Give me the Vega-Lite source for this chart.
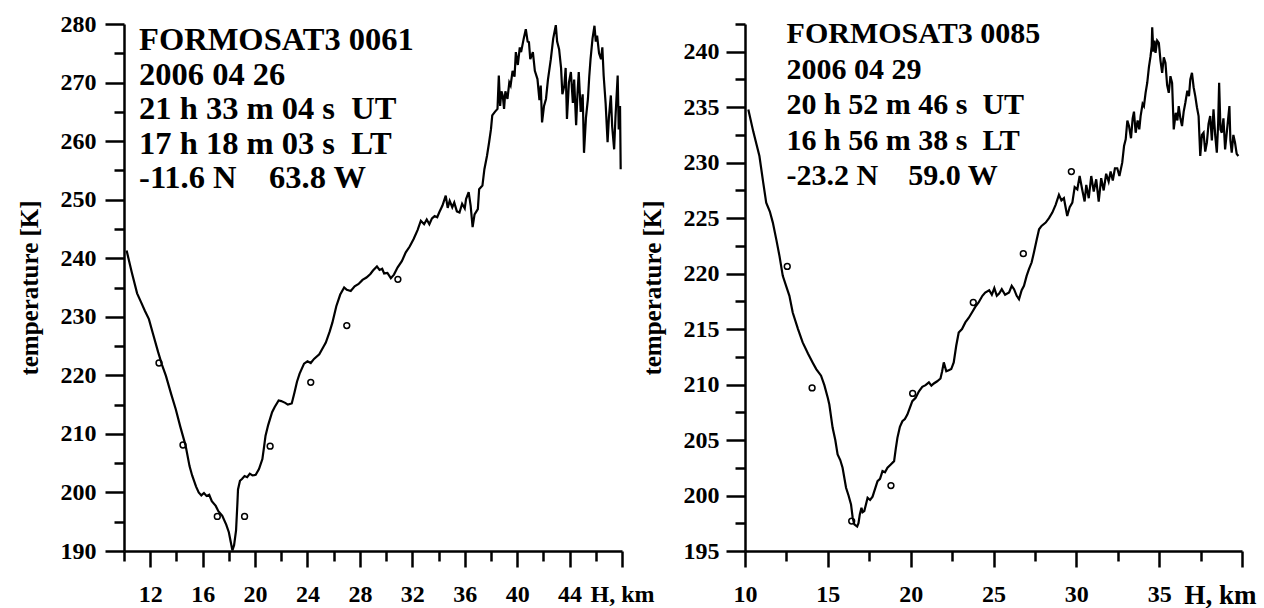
{
  "$schema": "https://vega.github.io/schema/vega-lite/v6.json",
  "background": "white",
  "padding": {"left": 17, "top": 12, "right": 0, "bottom": 0},
  "config": {"view": {"stroke": null}, "axis": {"grid": false, "labelFont": "Liberation Serif", "labelFontWeight": "bold", "labelFontSize": 24, "labelColor": "black", "labelOverlap": false, "labelFlush": false, "labelBound": false, "domainColor": "black", "domainWidth": 2.5, "tickColor": "black", "tickWidth": 2.5, "titleFont": "Liberation Serif", "titleFontWeight": "bold", "titleFontSize": 25, "titleColor": "black"}},
  "datasets": {
    "leftLine": [
      {"h":10.2,"t":241.3},{"h":10.6,"t":237.5},{"h":11.0,"t":234.0},{"h":11.3,"t":232.5},{"h":11.6,"t":231.0},{"h":11.9,"t":229.6},{"h":12.2,"t":227.2},{"h":12.6,"t":224.0},{"h":12.9,"t":221.8},{"h":13.2,"t":219.9},{"h":13.6,"t":216.8},{"h":13.95,"t":214.2},{"h":14.3,"t":211.2},{"h":14.7,"t":208.0},{"h":15.0,"t":204.5},{"h":15.2,"t":202.9},{"h":15.5,"t":201.0},{"h":15.7,"t":200.0},{"h":15.9,"t":199.5},{"h":16.1,"t":199.9},{"h":16.3,"t":199.4},{"h":16.5,"t":199.6},{"h":16.7,"t":198.5},{"h":17.0,"t":197.7},{"h":17.2,"t":196.8},{"h":17.5,"t":196.0},{"h":17.8,"t":194.5},{"h":18.0,"t":193.2},{"h":18.15,"t":191.5},{"h":18.27,"t":190.1},{"h":18.4,"t":191.0},{"h":18.55,"t":193.5},{"h":18.65,"t":198.0},{"h":18.7,"t":200.5},{"h":18.85,"t":202.0},{"h":19.0,"t":202.3},{"h":19.2,"t":202.8},{"h":19.4,"t":202.6},{"h":19.6,"t":203.2},{"h":19.8,"t":202.9},{"h":20.05,"t":203.0},{"h":20.3,"t":204.0},{"h":20.56,"t":205.7},{"h":20.7,"t":208.0},{"h":20.8,"t":209.7},{"h":21.0,"t":211.5},{"h":21.3,"t":213.7},{"h":21.5,"t":214.6},{"h":21.8,"t":215.7},{"h":22.0,"t":215.6},{"h":22.3,"t":215.3},{"h":22.5,"t":215.0},{"h":22.8,"t":215.2},{"h":23.0,"t":217.0},{"h":23.2,"t":218.9},{"h":23.4,"t":220.3},{"h":23.74,"t":222.0},{"h":24.0,"t":222.4},{"h":24.25,"t":222.1},{"h":24.5,"t":222.8},{"h":24.9,"t":223.6},{"h":25.2,"t":224.8},{"h":25.4,"t":225.6},{"h":25.7,"t":227.5},{"h":25.9,"t":229.0},{"h":26.2,"t":231.8},{"h":26.5,"t":233.8},{"h":26.8,"t":235.0},{"h":27.0,"t":234.6},{"h":27.3,"t":234.4},{"h":27.6,"t":235.2},{"h":27.9,"t":235.6},{"h":28.2,"t":236.3},{"h":28.5,"t":236.7},{"h":28.8,"t":237.3},{"h":29.0,"t":237.9},{"h":29.3,"t":238.6},{"h":29.5,"t":238.0},{"h":29.7,"t":238.2},{"h":29.85,"t":237.4},{"h":30.1,"t":237.5},{"h":30.36,"t":236.6},{"h":30.6,"t":237.2},{"h":30.87,"t":238.4},{"h":31.2,"t":239.5},{"h":31.5,"t":241.0},{"h":31.8,"t":242.0},{"h":32.1,"t":243.3},{"h":32.4,"t":244.8},{"h":32.65,"t":246.4},{"h":32.9,"t":245.8},{"h":33.1,"t":246.6},{"h":33.3,"t":245.8},{"h":33.5,"t":246.8},{"h":33.7,"t":247.2},{"h":33.9,"t":247.0},{"h":34.05,"t":247.8},{"h":34.3,"t":249.0},{"h":34.55,"t":250.7},{"h":34.7,"t":248.6},{"h":34.85,"t":249.8},{"h":35.05,"t":248.7},{"h":35.2,"t":249.5},{"h":35.4,"t":248.0},{"h":35.6,"t":247.8},{"h":35.8,"t":249.3},{"h":36.0,"t":248.5},{"h":36.1,"t":250.1},{"h":36.3,"t":251.3},{"h":36.45,"t":249.0},{"h":36.6,"t":245.3},{"h":36.75,"t":247.5},{"h":37.0,"t":248.4},{"h":37.1,"t":251.8},{"h":37.35,"t":252.4},{"h":37.5,"t":255.2},{"h":37.7,"t":257.5},{"h":37.86,"t":259.8},{"h":38.0,"t":262.0},{"h":38.1,"t":264.4},{"h":38.3,"t":265.0},{"h":38.5,"t":265.5},{"h":38.6,"t":271.2},{"h":38.7,"t":266.0},{"h":38.8,"t":268.5},{"h":38.9,"t":267.8},{"h":39.0,"t":265.5},{"h":39.1,"t":268.5},{"h":39.26,"t":267.2},{"h":39.4,"t":270.0},{"h":39.5,"t":269.5},{"h":39.65,"t":272.0},{"h":39.8,"t":271.0},{"h":39.9,"t":275.2},{"h":40.05,"t":273.0},{"h":40.2,"t":276.0},{"h":40.3,"t":275.2},{"h":40.5,"t":277.5},{"h":40.66,"t":279.1},{"h":40.8,"t":277.0},{"h":40.9,"t":276.9},{"h":41.0,"t":274.0},{"h":41.2,"t":275.2},{"h":41.35,"t":272.0},{"h":41.55,"t":270.6},{"h":41.7,"t":267.0},{"h":41.8,"t":269.5},{"h":41.9,"t":263.2},{"h":42.05,"t":266.0},{"h":42.2,"t":267.2},{"h":42.35,"t":270.5},{"h":42.57,"t":274.0},{"h":42.75,"t":277.5},{"h":42.95,"t":279.8},{"h":43.05,"t":277.0},{"h":43.2,"t":275.7},{"h":43.35,"t":272.5},{"h":43.45,"t":268.0},{"h":43.6,"t":269.5},{"h":43.7,"t":272.5},{"h":43.8,"t":263.8},{"h":43.95,"t":270.0},{"h":44.1,"t":271.8},{"h":44.25,"t":266.5},{"h":44.35,"t":270.5},{"h":44.5,"t":262.7},{"h":44.6,"t":268.0},{"h":44.7,"t":271.8},{"h":44.85,"t":265.0},{"h":45.0,"t":268.0},{"h":45.1,"t":258.0},{"h":45.25,"t":264.0},{"h":45.4,"t":267.2},{"h":45.5,"t":271.0},{"h":45.6,"t":274.0},{"h":45.75,"t":277.5},{"h":45.9,"t":279.7},{"h":46.0,"t":277.0},{"h":46.1,"t":278.0},{"h":46.25,"t":275.0},{"h":46.4,"t":274.0},{"h":46.5,"t":276.0},{"h":46.6,"t":271.2},{"h":46.75,"t":266.5},{"h":46.9,"t":259.8},{"h":47.0,"t":264.0},{"h":47.15,"t":267.8},{"h":47.25,"t":262.5},{"h":47.4,"t":258.6},{"h":47.5,"t":264.0},{"h":47.67,"t":271.2},{"h":47.75,"t":262.0},{"h":47.85,"t":266.0},{"h":47.9,"t":255.2}
    ],
    "leftPts": [
      {"h":12.67,"t":222.1},{"h":14.5,"t":208.1},{"h":17.12,"t":195.9},{"h":19.2,"t":195.9},{"h":21.15,"t":207.9},{"h":24.25,"t":218.8},{"h":27.0,"t":228.5},{"h":30.9,"t":236.4}
    ],
    "rightLine": [
      {"h":10.2,"t":234.8},{"h":10.5,"t":232.8},{"h":10.87,"t":230.6},{"h":11.1,"t":228.2},{"h":11.28,"t":226.4},{"h":11.5,"t":225.6},{"h":11.68,"t":224.6},{"h":11.9,"t":223.0},{"h":12.08,"t":221.6},{"h":12.28,"t":219.8},{"h":12.5,"t":218.8},{"h":12.68,"t":218.0},{"h":12.88,"t":216.5},{"h":13.2,"t":215.0},{"h":13.48,"t":213.8},{"h":13.8,"t":212.8},{"h":14.08,"t":212.0},{"h":14.3,"t":211.4},{"h":14.59,"t":210.8},{"h":14.79,"t":209.95},{"h":15.0,"t":208.8},{"h":15.09,"t":208.2},{"h":15.29,"t":206.1},{"h":15.45,"t":205.0},{"h":15.59,"t":203.7},{"h":15.75,"t":203.2},{"h":15.89,"t":202.5},{"h":16.1,"t":200.7},{"h":16.25,"t":200.0},{"h":16.4,"t":199.2},{"h":16.5,"t":198.0},{"h":16.6,"t":197.4},{"h":16.77,"t":197.2},{"h":16.85,"t":197.5},{"h":16.93,"t":198.3},{"h":17.03,"t":198.9},{"h":17.1,"t":198.5},{"h":17.2,"t":198.6},{"h":17.3,"t":199.2},{"h":17.4,"t":199.8},{"h":17.55,"t":199.6},{"h":17.7,"t":199.9},{"h":17.85,"t":200.6},{"h":18.0,"t":201.3},{"h":18.15,"t":201.5},{"h":18.3,"t":202.2},{"h":18.45,"t":202.1},{"h":18.6,"t":202.5},{"h":18.8,"t":202.8},{"h":19.0,"t":203.1},{"h":19.1,"t":204.2},{"h":19.2,"t":205.2},{"h":19.35,"t":206.2},{"h":19.5,"t":206.7},{"h":19.65,"t":206.9},{"h":19.8,"t":207.3},{"h":19.95,"t":207.9},{"h":20.1,"t":208.5},{"h":20.3,"t":208.8},{"h":20.5,"t":209.4},{"h":20.7,"t":209.8},{"h":20.9,"t":209.95},{"h":21.1,"t":210.2},{"h":21.25,"t":209.9},{"h":21.4,"t":210.1},{"h":21.6,"t":210.3},{"h":21.8,"t":210.55},{"h":21.9,"t":211.2},{"h":22.0,"t":212.0},{"h":22.15,"t":211.2},{"h":22.3,"t":211.3},{"h":22.45,"t":211.4},{"h":22.6,"t":212.0},{"h":22.75,"t":213.5},{"h":22.9,"t":214.7},{"h":23.1,"t":215.0},{"h":23.3,"t":215.6},{"h":23.5,"t":216.0},{"h":23.7,"t":216.5},{"h":23.9,"t":217.0},{"h":24.1,"t":217.4},{"h":24.33,"t":218.0},{"h":24.5,"t":218.3},{"h":24.74,"t":218.5},{"h":24.9,"t":218.1},{"h":25.05,"t":218.7},{"h":25.2,"t":218.0},{"h":25.34,"t":218.2},{"h":25.5,"t":218.6},{"h":25.7,"t":218.1},{"h":25.94,"t":218.3},{"h":26.1,"t":218.9},{"h":26.24,"t":218.6},{"h":26.4,"t":218.0},{"h":26.54,"t":217.7},{"h":26.7,"t":218.5},{"h":26.84,"t":218.9},{"h":27.0,"t":219.8},{"h":27.14,"t":220.4},{"h":27.3,"t":221.0},{"h":27.44,"t":221.9},{"h":27.6,"t":223.0},{"h":27.75,"t":224.0},{"h":27.9,"t":224.3},{"h":28.15,"t":224.6},{"h":28.35,"t":225.0},{"h":28.55,"t":225.5},{"h":28.75,"t":226.2},{"h":28.95,"t":227.1},{"h":29.1,"t":226.6},{"h":29.25,"t":226.8},{"h":29.45,"t":225.2},{"h":29.6,"t":226.0},{"h":29.76,"t":226.4},{"h":29.9,"t":227.8},{"h":30.06,"t":227.6},{"h":30.2,"t":228.8},{"h":30.35,"t":227.6},{"h":30.5,"t":226.5},{"h":30.6,"t":228.0},{"h":30.75,"t":226.8},{"h":30.9,"t":228.8},{"h":31.05,"t":227.4},{"h":31.2,"t":228.5},{"h":31.35,"t":226.5},{"h":31.5,"t":228.6},{"h":31.65,"t":227.5},{"h":31.8,"t":229.0},{"h":31.95,"t":228.3},{"h":32.07,"t":229.2},{"h":32.2,"t":228.4},{"h":32.33,"t":229.5},{"h":32.47,"t":229.5},{"h":32.6,"t":228.8},{"h":32.77,"t":230.0},{"h":32.88,"t":231.5},{"h":32.98,"t":232.1},{"h":33.08,"t":233.8},{"h":33.18,"t":233.3},{"h":33.3,"t":232.2},{"h":33.4,"t":234.0},{"h":33.48,"t":234.6},{"h":33.58,"t":232.7},{"h":33.7,"t":233.8},{"h":33.8,"t":233.0},{"h":33.88,"t":234.2},{"h":34.0,"t":235.3},{"h":34.08,"t":235.1},{"h":34.18,"t":236.3},{"h":34.28,"t":237.2},{"h":34.38,"t":238.6},{"h":34.48,"t":239.6},{"h":34.55,"t":240.5},{"h":34.58,"t":242.2},{"h":34.65,"t":240.0},{"h":34.72,"t":241.0},{"h":34.78,"t":239.9},{"h":34.88,"t":241.0},{"h":34.98,"t":240.8},{"h":35.08,"t":239.2},{"h":35.18,"t":238.1},{"h":35.28,"t":239.5},{"h":35.38,"t":239.0},{"h":35.48,"t":237.0},{"h":35.58,"t":236.3},{"h":35.68,"t":237.8},{"h":35.78,"t":237.2},{"h":35.88,"t":233.0},{"h":36.0,"t":234.5},{"h":36.1,"t":233.8},{"h":36.18,"t":235.1},{"h":36.28,"t":234.0},{"h":36.38,"t":233.3},{"h":36.48,"t":234.6},{"h":36.58,"t":235.4},{"h":36.7,"t":236.5},{"h":36.8,"t":236.0},{"h":36.88,"t":237.5},{"h":36.98,"t":238.1},{"h":37.08,"t":236.8},{"h":37.18,"t":236.0},{"h":37.28,"t":235.0},{"h":37.38,"t":234.2},{"h":37.48,"t":230.6},{"h":37.58,"t":232.5},{"h":37.68,"t":232.7},{"h":37.78,"t":231.0},{"h":37.88,"t":231.8},{"h":37.98,"t":233.5},{"h":38.08,"t":234.2},{"h":38.18,"t":232.0},{"h":38.28,"t":234.8},{"h":38.38,"t":232.5},{"h":38.48,"t":230.9},{"h":38.56,"t":233.5},{"h":38.62,"t":237.2},{"h":38.7,"t":233.0},{"h":38.78,"t":232.7},{"h":38.88,"t":234.0},{"h":38.98,"t":231.2},{"h":39.1,"t":233.0},{"h":39.24,"t":235.1},{"h":39.3,"t":232.0},{"h":39.38,"t":230.9},{"h":39.48,"t":232.5},{"h":39.58,"t":231.8},{"h":39.68,"t":230.8},{"h":39.78,"t":230.6}
    ],
    "rightPts": [
      {"h":12.55,"t":220.65},{"h":14.05,"t":209.7},{"h":16.44,"t":197.7},{"h":18.81,"t":200.9},{"h":20.12,"t":209.2},{"h":23.78,"t":217.4},{"h":26.8,"t":221.8},{"h":29.7,"t":229.2}
    ],
    "anchor": [{}]
  },
  "hconcat": [
    {
      "width": 498,
      "height": 527,
      "resolve": {"axis": {"x": "independent", "y": "independent"}},
      "layer": [
        {
          "data": {"name": "leftLine"},
          "mark": {"type": "line", "color": "black", "strokeWidth": 2.2},
          "encoding": {
            "x": {"field": "h", "type": "quantitative",
              "scale": {"domain": [10, 48], "nice": false, "zero": false},
              "axis": {"orient": "bottom", "offset": 0, "title": null, "values": [10,14,18,22,26,30,34,38,42,46], "labels": false, "tickSize": 10, "domain": true}},
            "y": {"field": "t", "type": "quantitative",
              "scale": {"domain": [190, 280], "nice": false, "zero": false},
              "axis": {"orient": "left", "offset": 0, "title": null, "values": [195,205,215,225,235,245,255,265,275], "labels": false, "tickSize": 10, "domain": true}}
          }
        },
        {
          "data": {"name": "leftPts"},
          "mark": {"type": "point", "shape": "circle", "filled": false, "color": "black", "size": 34, "strokeWidth": 1.5, "opacity": 1},
          "encoding": {
            "x": {"field": "h", "type": "quantitative",
              "axis": {"orient": "bottom", "offset": 0, "title": null, "values": [12,16,20,24,28,32,36,40,44,48], "domain": false, "tickSize": 16, "labelPadding": 15,
                "labelExpr": "datum.value == 48 ? 'H, km' : datum.label"}},
            "y": {"field": "t", "type": "quantitative",
              "axis": {"orient": "left", "offset": 0, "title": "temperature [K]", "values": [190,200,210,220,230,240,250,260,270,280], "domain": false, "tickSize": 19, "labelPadding": 9, "titlePadding": 18}}
          }
        },
        {
          "data": {"name": "anchor"},
          "mark": {"type": "text", "text": ["FORMOSAT3 0061", "2006 04 26", "21 h 33 m 04 s \u00a0UT", "17 h 18 m 03 s \u00a0LT", "-11.6 N \u00a0\u00a0\u00a063.8 W"],
            "font": "Liberation Serif", "fontWeight": "bold", "fontSize": 32.5, "lineHeight": 34.5, "align": "left", "baseline": "top", "color": "black"},
          "encoding": {
            "x": {"datum": 11.15, "type": "quantitative", "axis": null},
            "y": {"datum": 280, "type": "quantitative", "axis": null}
          }
        }
      ]
    },
    {
      "width": 497,
      "height": 527,
      "resolve": {"axis": {"x": "independent", "y": "independent"}},
      "layer": [
        {
          "data": {"name": "rightLine"},
          "mark": {"type": "line", "color": "black", "strokeWidth": 2.2},
          "encoding": {
            "x": {"field": "h", "type": "quantitative",
              "scale": {"domain": [10, 40], "nice": false, "zero": false},
              "axis": {"orient": "bottom", "offset": 0, "title": null, "values": [12.5,17.5,22.5,27.5,32.5,37.5], "labels": false, "tickSize": 10, "domain": true}},
            "y": {"field": "t", "type": "quantitative",
              "scale": {"domain": [195, 242.5], "nice": false, "zero": false},
              "axis": {"orient": "left", "offset": 0, "title": null, "values": [197.5,202.5,207.5,212.5,217.5,222.5,227.5,232.5,237.5,242.5], "labels": false, "tickSize": 10, "domain": true}}
          }
        },
        {
          "data": {"name": "rightPts"},
          "mark": {"type": "point", "shape": "circle", "filled": false, "color": "black", "size": 34, "strokeWidth": 1.5, "opacity": 1},
          "encoding": {
            "x": {"field": "h", "type": "quantitative",
              "axis": {"orient": "bottom", "offset": 0, "title": null, "values": [10,15,20,25,30,35,40], "domain": false, "tickSize": 16, "labelPadding": 15,
                "labelExpr": "datum.value == 40 ? 'H, km' : datum.label",
                "labelFontSize": {"condition": {"test": "datum.value == 40", "value": 27}, "value": 24},
                "labelOffset": {"condition": {"test": "datum.value == 40", "value": -22}, "value": 0}}},
            "y": {"field": "t", "type": "quantitative",
              "axis": {"orient": "left", "offset": 0, "title": "temperature [K]", "values": [195,200,205,210,215,220,225,230,235,240], "domain": false, "tickSize": 19, "labelPadding": 7, "titlePadding": 18}}
          }
        },
        {
          "data": {"name": "anchor"},
          "mark": {"type": "text", "text": ["FORMOSAT3 0085", "2006 04 29", "20 h 52 m 46 s \u00a0UT", "16 h 56 m 38 s \u00a0LT", "-23.2 N \u00a0\u00a0\u00a059.0 W"],
            "font": "Liberation Serif", "fontWeight": "bold", "fontSize": 30, "lineHeight": 35.5, "align": "left", "baseline": "top", "color": "black", "dy": -5},
          "encoding": {
            "x": {"datum": 12.51, "type": "quantitative", "axis": null},
            "y": {"datum": 242.5, "type": "quantitative", "axis": null}
          }
        }
      ]
    }
  ],
  "spacing": 123,
  "bounds": "flush"
}
